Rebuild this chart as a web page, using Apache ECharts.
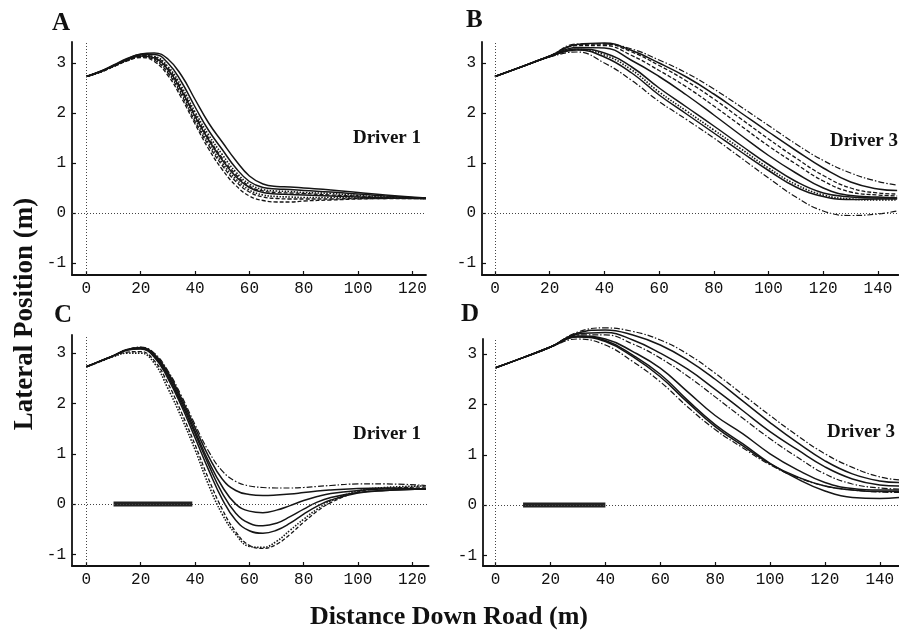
<!DOCTYPE html>
<html>
<head>
<meta charset="utf-8">
<script src="https://cdn.jsdelivr.net/npm/echarts@6/dist/echarts.min.js"></script>
<style>
  html, body { margin: 0; padding: 0; background: #fff; }
  #chart { width: 899px; height: 632px; }
</style>
</head>
<body>
<div id="chart"></div>
<script>
// ---- Distance samples down the road (m) ----
const distA = [0, 5, 10, 15, 20, 25, 30, 35, 40, 45, 50, 55, 60, 65, 70, 75, 80, 90, 100, 110, 125];
const distB = [0, 10, 20, 30, 40, 50, 60, 70, 80, 90, 100, 110, 120, 130, 140, 147];
const distC = [0, 5, 10, 15, 20, 25, 30, 35, 40, 45, 50, 55, 60, 65, 70, 75, 80, 85, 90, 100, 110, 125];
const distD = [0, 10, 20, 30, 40, 50, 60, 70, 80, 90, 100, 110, 120, 130, 140, 147];

// ---- Panel A: Driver 1, lateral position (m) ----
const a1 = [2.73, 2.83, 2.96, 3.09, 3.18, 3.20, 3.08, 2.75, 2.27, 1.80, 1.42, 1.05, 0.74, 0.58, 0.53, 0.52, 0.50, 0.46, 0.41, 0.36, 0.30];
const a2 = [2.73, 2.83, 2.95, 3.08, 3.17, 3.17, 3.00, 2.62, 2.12, 1.65, 1.27, 0.90, 0.63, 0.51, 0.48, 0.47, 0.45, 0.42, 0.38, 0.34, 0.29];
const a3 = [2.73, 2.82, 2.94, 3.07, 3.15, 3.13, 2.93, 2.53, 2.02, 1.56, 1.17, 0.82, 0.58, 0.47, 0.44, 0.43, 0.41, 0.39, 0.35, 0.32, 0.29];
const a4 = [2.73, 2.82, 2.94, 3.07, 3.15, 3.12, 2.90, 2.48, 1.97, 1.50, 1.10, 0.77, 0.54, 0.44, 0.41, 0.40, 0.39, 0.36, 0.34, 0.31, 0.29];
const a5 = [2.73, 2.82, 2.94, 3.06, 3.14, 3.10, 2.87, 2.45, 1.93, 1.46, 1.06, 0.73, 0.51, 0.41, 0.38, 0.37, 0.36, 0.34, 0.32, 0.30, 0.29];
const a6 = [2.73, 2.82, 2.93, 3.05, 3.13, 3.08, 2.83, 2.40, 1.88, 1.40, 1.00, 0.68, 0.46, 0.36, 0.33, 0.32, 0.31, 0.31, 0.30, 0.30, 0.29];
const a7 = [2.73, 2.82, 2.93, 3.05, 3.12, 3.06, 2.80, 2.36, 1.83, 1.35, 0.95, 0.63, 0.42, 0.32, 0.29, 0.28, 0.28, 0.28, 0.29, 0.29, 0.29];
const a8 = [2.73, 2.81, 2.93, 3.04, 3.11, 3.03, 2.75, 2.30, 1.78, 1.28, 0.87, 0.55, 0.34, 0.25, 0.22, 0.22, 0.24, 0.26, 0.28, 0.29, 0.30];

// ---- Panel B: Driver 3 ----
const b1 = [2.73, 2.93, 3.12, 3.22, 3.00, 2.65, 2.23, 1.87, 1.50, 1.10, 0.70, 0.32, 0.04, -0.05, -0.02, 0.04];
const b2 = [2.73, 2.93, 3.13, 3.26, 3.12, 2.80, 2.36, 1.98, 1.60, 1.22, 0.85, 0.52, 0.33, 0.27, 0.28, 0.28];
const b3 = [2.73, 2.93, 3.13, 3.27, 3.16, 2.86, 2.42, 2.04, 1.66, 1.28, 0.90, 0.57, 0.36, 0.28, 0.26, 0.26];
const b4 = [2.73, 2.93, 3.13, 3.28, 3.20, 2.92, 2.50, 2.12, 1.74, 1.35, 0.97, 0.63, 0.40, 0.32, 0.30, 0.30];
const b5 = [2.73, 2.93, 3.13, 3.31, 3.30, 3.05, 2.73, 2.36, 1.96, 1.55, 1.15, 0.80, 0.50, 0.35, 0.32, 0.30];
const b6 = [2.73, 2.93, 3.14, 3.35, 3.35, 3.15, 2.85, 2.52, 2.14, 1.74, 1.34, 0.98, 0.64, 0.42, 0.36, 0.34];
const b7 = [2.73, 2.93, 3.14, 3.36, 3.38, 3.22, 2.95, 2.64, 2.28, 1.88, 1.48, 1.10, 0.75, 0.50, 0.40, 0.38];
const b8 = [2.73, 2.93, 3.14, 3.37, 3.40, 3.25, 3.00, 2.72, 2.38, 2.00, 1.62, 1.25, 0.90, 0.62, 0.48, 0.45];
const b9 = [2.73, 2.93, 3.14, 3.38, 3.38, 3.28, 3.06, 2.80, 2.48, 2.12, 1.75, 1.38, 1.05, 0.80, 0.63, 0.56];

// ---- Panel C: Driver 1, with obstacle ----
const c1 = [2.73, 2.84, 2.95, 3.07, 3.12, 3.00, 2.65, 2.15, 1.58, 1.05, 0.66, 0.45, 0.36, 0.33, 0.32, 0.32, 0.33, 0.35, 0.37, 0.40, 0.40, 0.37];
const c2 = [2.73, 2.84, 2.95, 3.07, 3.11, 2.98, 2.62, 2.10, 1.52, 0.95, 0.50, 0.27, 0.19, 0.17, 0.18, 0.20, 0.23, 0.26, 0.28, 0.31, 0.32, 0.30];
const c3 = [2.73, 2.84, 2.95, 3.07, 3.10, 2.96, 2.58, 2.05, 1.45, 0.85, 0.35, 0.00, -0.14, -0.17, -0.12, -0.03, 0.07, 0.15, 0.21, 0.27, 0.30, 0.30];
const c4 = [2.73, 2.84, 2.95, 3.06, 3.09, 2.94, 2.54, 2.00, 1.40, 0.78, 0.22, -0.18, -0.38, -0.43, -0.38, -0.25, -0.10, 0.04, 0.13, 0.23, 0.27, 0.30];
const c5 = [2.73, 2.84, 2.95, 3.06, 3.08, 2.92, 2.50, 1.95, 1.32, 0.68, 0.10, -0.32, -0.53, -0.58, -0.52, -0.38, -0.20, -0.04, 0.08, 0.22, 0.27, 0.30];
const c6 = [2.73, 2.83, 2.94, 3.02, 3.03, 2.85, 2.40, 1.82, 1.18, 0.50, -0.10, -0.55, -0.82, -0.88, -0.80, -0.60, -0.36, -0.14, 0.03, 0.24, 0.31, 0.34];
const c7 = [2.73, 2.83, 2.93, 3.00, 3.00, 2.80, 2.30, 1.72, 1.08, 0.38, -0.20, -0.60, -0.84, -0.86, -0.74, -0.52, -0.30, -0.10, 0.06, 0.26, 0.33, 0.36];

// ---- Panel D: Driver 3, with obstacle ----
const d1 = [2.73, 2.93, 3.14, 3.30, 3.18, 2.85, 2.45, 1.95, 1.50, 1.14, 0.80, 0.55, 0.38, 0.30, 0.26, 0.25];
const d2 = [2.73, 2.93, 3.14, 3.34, 3.25, 2.95, 2.55, 2.04, 1.56, 1.18, 0.82, 0.56, 0.38, 0.30, 0.27, 0.27];
const d3 = [2.73, 2.93, 3.14, 3.35, 3.27, 2.98, 2.60, 2.08, 1.60, 1.22, 0.83, 0.52, 0.28, 0.15, 0.13, 0.15];
const d4 = [2.73, 2.93, 3.14, 3.36, 3.30, 3.05, 2.72, 2.25, 1.78, 1.42, 1.02, 0.70, 0.45, 0.33, 0.30, 0.30];
const d5 = [2.73, 2.93, 3.14, 3.38, 3.38, 3.20, 2.92, 2.56, 2.15, 1.73, 1.32, 0.95, 0.62, 0.42, 0.34, 0.32];
const d6 = [2.73, 2.93, 3.14, 3.40, 3.43, 3.28, 3.02, 2.70, 2.30, 1.88, 1.46, 1.10, 0.76, 0.52, 0.40, 0.38];
const d7 = [2.73, 2.93, 3.14, 3.42, 3.48, 3.38, 3.18, 2.88, 2.50, 2.07, 1.64, 1.24, 0.88, 0.62, 0.48, 0.45];
const d8 = [2.73, 2.93, 3.14, 3.44, 3.52, 3.45, 3.28, 3.00, 2.62, 2.20, 1.78, 1.38, 1.02, 0.75, 0.56, 0.50];

// Obstacle stretch (start, end distance in m) drawn on the road centre line
const obstacleC = [10, 39];
const obstacleD = [10, 40];

// Axis tick values
const ticksX120 = [0, 20, 40, 60, 80, 100, 120];
const ticksX140 = [0, 20, 40, 60, 80, 100, 120, 140];
const ticksY = [-1, 0, 1, 2, 3];

// Line dash patterns used for individual runs
const DASH = {
  solid: { type: 'solid', width: 1.5 },
  dashed: { type: [4, 2], width: 1.3 },
  dotted: { type: [1.5, 1.5], width: 1.6 },
  dashdot: { type: [6, 2, 1.5, 2], width: 1.2 }
};

const ink = '#151515';

function trace(panel, xs, ys, kind) {
  const st = DASH[kind];
  return {
    type: 'line',
    xAxisIndex: panel,
    yAxisIndex: panel,
    data: xs.map((x, i) => [x, ys[i]]),
    showSymbol: false,
    smooth: 0.45,
    clip: false,
    silent: true,
    lineStyle: { color: ink, width: st.width, type: st.type }
  };
}

function obstacle(panel, span) {
  return {
    type: 'line',
    xAxisIndex: panel,
    yAxisIndex: panel,
    data: [[span[0], 0], [span[1], 0]],
    showSymbol: false,
    silent: true,
    lineStyle: { color: '#222', width: 5, cap: 'butt' }
  };
}

// Dotted reference lines at lateral 0 and distance 0
function zeroLines(panel) {
  return {
    type: 'line',
    xAxisIndex: panel,
    yAxisIndex: panel,
    data: [],
    silent: true,
    markLine: {
      silent: true,
      symbol: 'none',
      animation: false,
      label: { show: false },
      lineStyle: { color: '#444', width: 1, type: [1, 2] },
      data: [{ yAxis: 0 }, { xAxis: 0 }]
    }
  };
}

const grids = [
  { left: 72, top: 42, width: 354, height: 233 },
  { left: 482, top: 42, width: 416.5, height: 233 },
  { left: 72, top: 335, width: 356.6, height: 231 },
  { left: 483, top: 339, width: 416, height: 227 }
];
const xRanges = [[-5.3, 125], [-4.75, 147.5], [-5.3, 126], [-4.6, 147]];
const yRanges = [[-1.24, 3.42], [-1.24, 3.42], [-1.23, 3.36], [-1.21, 3.3]];
const xTickSets = [ticksX120, ticksX140, ticksX120, ticksX140];

const tickFont = { fontFamily: 'Liberation Mono', fontSize: 16, color: '#111' };
const axisLineStyle = { show: true, onZero: false, lineStyle: { color: '#111', width: 1.8 } };

const xAxes = grids.map((g, i) => ({
  type: 'value', gridIndex: i,
  min: xRanges[i][0], max: xRanges[i][1],
  axisLine: axisLineStyle,
  axisTick: { show: true, inside: true, length: 4, customValues: xTickSets[i], lineStyle: { color: '#111', width: 1.2 } },
  axisLabel: Object.assign({ customValues: xTickSets[i], margin: 6 }, tickFont),
  splitLine: { show: false }
}));
const yAxes = grids.map((g, i) => ({
  type: 'value', gridIndex: i,
  min: yRanges[i][0], max: yRanges[i][1],
  axisLine: axisLineStyle,
  axisTick: { show: true, inside: true, length: 4, customValues: ticksY, lineStyle: { color: '#111', width: 1.2 } },
  axisLabel: Object.assign({ customValues: ticksY, margin: 6 }, tickFont),
  splitLine: { show: false }
}));

const series = [
  zeroLines(0), zeroLines(1), zeroLines(2), zeroLines(3),
  trace(0, distA, a1, 'solid'), trace(0, distA, a2, 'solid'), trace(0, distA, a3, 'dotted'),
  trace(0, distA, a4, 'dashed'), trace(0, distA, a5, 'solid'), trace(0, distA, a6, 'dotted'),
  trace(0, distA, a7, 'dashed'), trace(0, distA, a8, 'dashed'),

  trace(1, distB, b1, 'dashdot'), trace(1, distB, b2, 'solid'), trace(1, distB, b3, 'dotted'),
  trace(1, distB, b4, 'solid'), trace(1, distB, b5, 'solid'), trace(1, distB, b6, 'dashed'),
  trace(1, distB, b7, 'dashed'), trace(1, distB, b8, 'solid'), trace(1, distB, b9, 'dashdot'),

  trace(2, distC, c1, 'dashdot'), trace(2, distC, c2, 'solid'), trace(2, distC, c3, 'solid'),
  trace(2, distC, c4, 'solid'), trace(2, distC, c5, 'solid'), trace(2, distC, c6, 'dashed'),
  trace(2, distC, c7, 'dotted'),

  trace(3, distD, d1, 'dashdot'), trace(3, distD, d2, 'solid'), trace(3, distD, d3, 'solid'),
  trace(3, distD, d4, 'solid'), trace(3, distD, d5, 'dashdot'), trace(3, distD, d6, 'solid'),
  trace(3, distD, d7, 'solid'), trace(3, distD, d8, 'dashdot'),

  obstacle(2, obstacleC), obstacle(3, obstacleD)
];

const serif = 'bold {size}px "Liberation Serif", "DejaVu Serif", serif';
function font(size) { return serif.replace('{size}', size); }
function label(text, x, y, size, align) {
  return {
    type: 'text', silent: true,
    style: { text: text, x: x, y: y, fill: '#111', font: font(size), textAlign: align || 'left', textVerticalAlign: 'middle' }
  };
}

const graphic = [
  label('A', 52, 24, 25), label('B', 466, 21, 25),
  label('C', 54, 316, 25), label('D', 461, 315, 25),
  label('Driver 1', 421, 138, 19, 'right'),
  label('Driver 3', 898, 141, 19, 'right'),
  label('Driver 1', 421, 434, 19, 'right'),
  label('Driver 3', 895, 432, 19, 'right'),
  label('Distance Down Road (m)', 449, 617, 26, 'center'),
  {
    type: 'text', silent: true, x: 25, y: 314, rotation: Math.PI / 2,
    style: { text: 'Lateral Position (m)', x: 0, y: 0, fill: '#111', font: font(27), textAlign: 'center', textVerticalAlign: 'middle' }
  }
];

const chart = echarts.init(document.getElementById('chart'), null, { renderer: 'canvas' });
chart.setOption({
  animation: false,
  backgroundColor: '#fff',
  grid: grids,
  xAxis: xAxes,
  yAxis: yAxes,
  series: series,
  graphic: graphic
});
</script>
</body>
</html>
